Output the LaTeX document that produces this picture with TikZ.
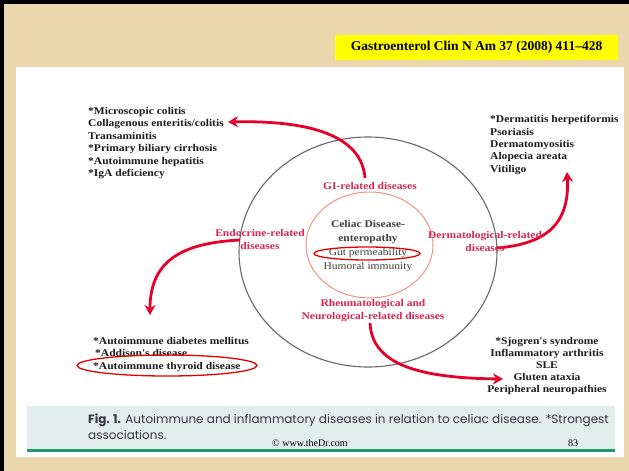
\documentclass[tikz,border=0pt]{standalone}
\usepackage{fontspec}
\setmainfont{Liberation Serif}
\newfontfamily\figfont[FakeStretch=1.12]{Liberation Serif}
\newfontfamily\capfont{Poppins}
\usetikzlibrary{arrows.meta,shapes.geometric}
\definecolor{parch}{RGB}{234,216,172}
\definecolor{listgray}{RGB}{28,28,28}
\definecolor{labred}{RGB}{214,40,82}
\definecolor{arrowred}{RGB}{228,0,40}
\definecolor{ringgray}{RGB}{105,105,105}
\definecolor{ringpink}{RGB}{236,150,130}
\definecolor{bandcol}{RGB}{226,238,236}
\definecolor{linegreen}{RGB}{38,150,110}
\definecolor{capgray}{RGB}{55,55,65}
\definecolor{hiyellow}{RGB}{255,255,0}
\begin{document}
\begin{tikzpicture}[x=1pt,y=-1pt,
  listtext/.style={font=\figfont\bfseries\fontsize{10.3}{12.4}\selectfont, text=listgray, inner sep=0pt},
  redlabel/.style={font=\figfont\bfseries\fontsize{10.3}{13}\selectfont, text=labred, inner sep=0pt, align=center},
  centertext/.style={font=\figfont\fontsize{10.3}{14}\selectfont, text=black!75, inner sep=0pt, align=center},
  redarrow/.style={draw=arrowred, line width=2.8pt, -{Stealth[length=10pt,width=11pt]}},
  redring/.style={draw=red!90!black, line width=1.3pt}]
\path[use as bounding box] (0,0) rectangle (629,471);
% background
\fill[parch] (0,0) rectangle (629,471);
\fill[black] (0,0) rectangle (629,4);
\fill[black] (0,0) rectangle (4,471);
% yellow reference box
\node[fill=hiyellow, minimum width=283pt, minimum height=25pt, inner sep=0pt,
      font=\bfseries\fontsize{13.5}{15}\selectfont] (ref) at (476.5,47.5)
      {Gastroenterol Clin N Am 37 (2008) 411--428};
% white panel
\fill[white] (16,67) rectangle (624,457);
% caption band
\fill[bandcol] (27,406) rectangle (615,449);
\fill[linegreen] (27,449) rectangle (615,452);
% circles
\node[draw=ringgray, line width=1.1pt, ellipse, minimum width=258pt, minimum height=230pt, inner sep=0pt] (outer) at (368,252) {};
\draw[ringpink, line width=1pt] (369.5,245) ellipse [x radius=63.5pt, y radius=53pt];
% coordinates for arrow ends
\coordinate (gistart) at (365,178);
\coordinate (gitip) at (228,122);
\coordinate (endostart) at (240,240);
\coordinate (endotip) at (150,315);
\coordinate (dermstart) at (497,248);
\coordinate (dermtip) at (567,172);
\coordinate (rheustart) at (370,323);
\coordinate (rheutip) at (503,379);
% arrows
\draw[redarrow] (gistart) .. controls (362,140) and (320,120) .. (gitip);
\draw[redarrow] (endostart) .. controls (180,243) and (150,262) .. (endotip);
\draw[redarrow] (dermstart) .. controls (545,244) and (570,225) .. (dermtip);
\draw[redarrow] (rheustart) .. controls (372,365) and (420,378) .. (rheutip);
% lists
\node[listtext, anchor=west, align=left] (gilist) at (88,143)
  {*Microscopic colitis\\Collagenous enteritis/colitis\\Transaminitis\\*Primary biliary cirrhosis\\*Autoimmune hepatitis\\*IgA deficiency};
\node[listtext, anchor=west, align=left] (dermlist) at (490,145)
  {*Dermatitis herpetiformis\\Psoriasis\\Dermatomyositis\\Alopecia areata\\Vitiligo};
\node[listtext, anchor=west, align=left] (endolist) at (93,354.5)
  {*Autoimmune diabetes mellitus\\\hspace{2pt}*Addison's disease\\*Autoimmune thyroid disease};
\node[listtext, align=center, font=\figfont\bfseries\fontsize{10.3}{12}\selectfont] (rheulist) at (547,366)
  {*Sjogren's syndrome\\Inflammatory arthritis\\SLE\\Gluten ataxia\\Peripheral neuropathies};
% red labels
\node[redlabel] (gi) at (370,186) {GI-related diseases};
\node[redlabel] (endo) at (260,239.5) {Endocrine-related\\diseases};
\node[redlabel] (derm) at (485,241.5) {Dermatological-related\\diseases\hspace{20pt}};
\node[redlabel] (rheu) at (373,310.5) {Rheumatological and\\Neurological-related diseases};
% center text
\node[centertext] (celiac) at (368,246)
  {\textbf{Celiac Disease-}\\\textbf{enteropathy}\\Gut permeability\\Humoral immunity};
% highlight rings
\draw[redring] (367,253.5) ellipse [x radius=53pt, y radius=6.5pt];
\draw[redring] (167,365.5) ellipse [x radius=90pt, y radius=10.5pt];
% caption
\node[anchor=west, align=left, inner sep=0pt, text=capgray,
      font=\capfont\fontsize{12}{16}\selectfont] (caption) at (88,427)
  {\textbf{Fig. 1.} Autoimmune and inflammatory diseases in relation to celiac disease. *Strongest\\associations.};
\node[inner sep=0pt, font=\fontsize{10}{12}\selectfont] (site) at (310,443) {\textcopyright\ www.theDr.com};
\node[inner sep=0pt, font=\fontsize{10}{12}\selectfont] (page) at (573,443) {83};
\end{tikzpicture}
\end{document}
